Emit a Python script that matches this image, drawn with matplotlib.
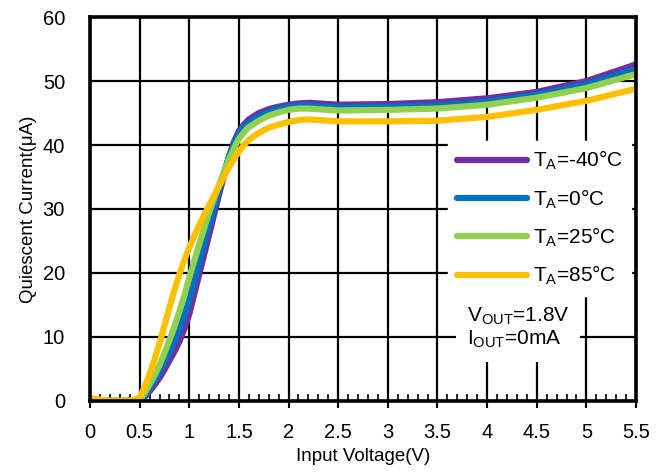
import numpy as np
import matplotlib
matplotlib.use('Agg')
import matplotlib.pyplot as plt
from matplotlib.ticker import MultipleLocator, FuncFormatter

# Quiescent current vs input voltage at four ambient temperatures

plt.rcParams['font.family'] = ['Liberation Sans', 'DejaVu Sans']
plt.rcParams['mathtext.fontset'] = 'custom'
plt.rcParams['mathtext.rm'] = 'Liberation Sans'

vin = [0, 0.1, 0.2, 0.3, 0.4, 0.5, 0.55, 0.6, 0.65, 0.7, 0.75, 0.8, 0.85,
       0.9, 0.95, 1.0, 1.1, 1.2, 1.3, 1.4, 1.45, 1.5, 1.55, 1.6, 1.7, 1.8,
       1.9, 2.0, 2.1, 2.2, 2.3, 2.5, 3.0, 3.5, 4.0, 4.5, 5.0, 5.5]

iq_m40 = [0, 0, 0, 0, 0, 0, 0.6, 1.5, 2.5, 3.6, 4.9, 6.3, 7.7, 9.3, 11.3,
          13.6, 19.8, 26.0, 32.3, 38.2, 40.5, 42.2, 43.2, 44.0, 45.0, 45.6,
          46.0, 46.3, 46.5, 46.6, 46.5, 46.3, 46.4, 46.7, 47.3, 48.3, 50.0,
          52.6]
iq_0 = [0, 0, 0, 0, 0, 0, 0.8, 1.9, 3.1, 4.5, 6.0, 7.6, 9.3, 11.2, 13.4,
        15.8, 21.6, 27.5, 33.0, 38.2, 40.3, 41.8, 42.8, 43.5, 44.5, 45.2,
        45.7, 46.0, 46.2, 46.2, 46.1, 45.9, 46.0, 46.2, 46.8, 47.9, 49.5,
        51.9]
iq_25 = [0, 0, 0, 0, 0, 0.2, 1.2, 2.6, 4.0, 5.6, 7.5, 9.5, 11.6, 14.0, 16.5,
         19.3, 24.5, 29.5, 33.8, 37.8, 39.5, 41.0, 42.0, 42.8, 43.8, 44.6,
         45.1, 45.5, 45.7, 45.7, 45.6, 45.4, 45.5, 45.7, 46.3, 47.4, 48.9,
         51.1]
iq_85 = [0.4, 0.2, 0, 0, 0, 0.5, 2.2, 4.2, 6.5, 9.0, 11.8, 14.6, 17.3, 19.8,
         22.0, 24.0, 27.5, 30.6, 33.6, 36.5, 37.8, 39.0, 40.0, 40.8, 41.9,
         42.7, 43.2, 43.6, 43.9, 44.0, 43.9, 43.7, 43.7, 43.8, 44.4, 45.5,
         46.9, 48.8]

series = [
    (iq_m40, '#7030A0', r'$\mathregular{T_A}$=-40°C'),
    (iq_0, '#0070C0', r'$\mathregular{T_A}$=0°C'),
    (iq_25, '#92D050', r'$\mathregular{T_A}$=25°C'),
    (iq_85, '#FFC000', r'$\mathregular{T_A}$=85°C'),
]

fig = plt.figure(figsize=(6.67, 4.75), dpi=100)
ax = fig.add_axes([0.135, 0.156, 0.8185, 0.808])

for y, c, lab in series:
    ax.plot(vin, y, color=c, lw=4.5, label=lab, solid_capstyle='round',
            solid_joinstyle='round', zorder=3)

ax.set_xlim(0, 5.5)
ax.set_ylim(0, 60)
ax.xaxis.set_major_locator(MultipleLocator(0.5))
ax.xaxis.set_minor_locator(MultipleLocator(0.1))
ax.yaxis.set_major_locator(MultipleLocator(10))
ax.xaxis.set_major_formatter(FuncFormatter(lambda v, p: f'{v:g}'))

ax.grid(True, which='major', color='black', lw=1.6, zorder=1)
for s in ax.spines.values():
    s.set_linewidth(2.6)
    s.set_zorder(4)

ax.tick_params(axis='x', which='major', direction='out', length=5, width=1.5,
               pad=11, labelsize=14.5)
ax.tick_params(axis='x', which='minor', direction='in', length=5, width=1.2)
ax.tick_params(axis='y', which='major', length=0, pad=18, labelsize=14.5)

ax.set_xlabel('Input Voltage(V)', fontsize=13.5, labelpad=4)
ax.set_ylabel('Quiescent Current(μA)', fontsize=13.5, labelpad=4)

leg = ax.legend(loc='upper left', bbox_to_anchor=(0.656, 0.678), fontsize=15,
                frameon=True, fancybox=False, framealpha=1, edgecolor='white',
                facecolor='white', handlelength=3.4, handletextpad=0.25,
                labelspacing=0.72, borderpad=0.4, borderaxespad=0)
leg.set_zorder(5)

ax.text(0.69, 0.19, '$\\mathregular{V_{OUT}}$=1.8V\n$\\mathregular{I_{OUT}}$=0mA',
        transform=ax.transAxes, fontsize=15, va='center', ha='left',
        linespacing=1.15, zorder=5,
        bbox=dict(facecolor='white', edgecolor='none', pad=8))

fig.savefig('out.png', dpi=100)
